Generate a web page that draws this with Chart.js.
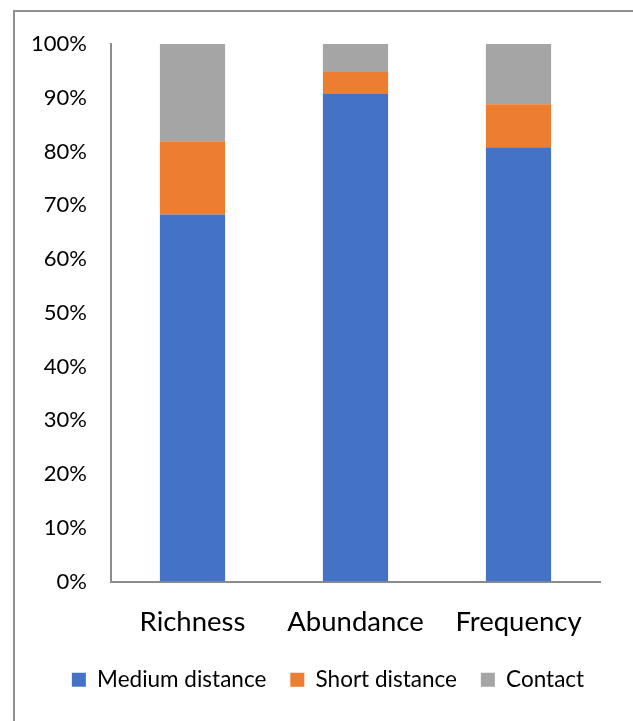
<!DOCTYPE html>
<html>
<head>
<meta charset="utf-8">
<script src="https://cdn.jsdelivr.net/npm/chart.js@4"></script>
<style>
  html, body { margin: 0; padding: 0; background: #fff; }
  #wrap { position: relative; width: 633px; height: 721px; overflow: hidden; }
  #frame { position: absolute; left: 13px; top: 10px; width: 700px; height: 800px;
           border-left: 2px solid #8f8f8f; border-top: 2px solid #8f8f8f; }
  canvas { position: absolute; left: 0; top: 0; }
</style>
</head>
<body>
<div id="wrap">
  <div id="frame"></div>
  <canvas id="chart" width="633" height="721"></canvas>
</div>
<script>
// values (percent of total)
const categories = ['Richness', 'Abundance', 'Frequency'];
const mediumDistance = [68.3, 90.7, 80.8];
const shortDistance = [13.6, 4.1, 8.0];
const contact = [18.1, 5.2, 11.2];
const tickValues = [0, 10, 20, 30, 40, 50, 60, 70, 80, 90, 100];

const FONT = 'Lato, "Open Sans", sans-serif';

new Chart(document.getElementById('chart'), {
    type: 'bar',
    data: {
        labels: categories,
        datasets: [
            { label: 'Medium distance', data: mediumDistance, backgroundColor: '#4472C4' },
            { label: 'Short distance', data: shortDistance, backgroundColor: '#ED7D31' },
            { label: 'Contact', data: contact, backgroundColor: '#A5A5A5' }
        ]
    },
    options: {
        responsive: false,
        animation: false,
        layout: { padding: { left: 30, right: 7, top: 44, bottom: 20 } },
        datasets: { bar: { categoryPercentage: 1, barPercentage: 0.4 } },
        plugins: {
            tooltip: { enabled: false },
            legend: {
                position: 'bottom',
                labels: {
                    font: { family: FONT, size: 22.5 },
                    color: '#000',
                    boxWidth: 14,
                    boxHeight: 14,
                    padding: 24
                }
            }
        },
        scales: {
            x: {
                stacked: true,
                grid: { display: false, drawTicks: false },
                border: { color: '#8c8c8c', width: 2 },
                ticks: { font: { family: FONT, size: 27.5 }, color: '#000', padding: 24 },
                afterFit: s => { s.height = 63; }
            },
            y: {
                stacked: true,
                min: 0,
                max: 100,
                grid: { display: false, drawTicks: false },
                border: { color: '#8c8c8c', width: 2 },
                afterBuildTicks: s => { s.ticks = tickValues.map(v => ({ value: v })); },
                ticks: {
                    font: { family: FONT, size: 22 },
                    color: '#000',
                    padding: 24,
                    callback: v => v + '%'
                },
                afterFit: s => { s.width = 81; }
            },
            // empty right-hand spacer so the legend can sit off-centre like the original
            spacer: {
                position: 'right',
                grid: { display: false, drawTicks: false },
                border: { display: false },
                ticks: { display: false },
                afterFit: s => { s.width = 26; }
            }
        }
    }
});
</script>
</body>
</html>
